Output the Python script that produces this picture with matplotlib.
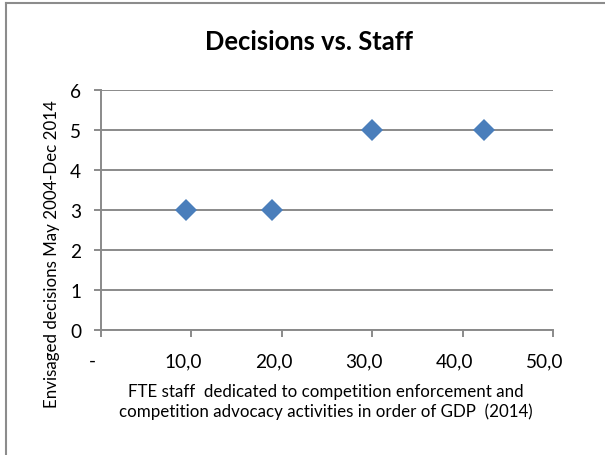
import matplotlib.pyplot as plt
import matplotlib.transforms as mtransforms
from matplotlib.lines import Line2D

plt.rcParams['font.family'] = ['Lato', 'DejaVu Sans']

# staff per GDP vs. number of decisions
staff = [9.5, 19.0, 30.0, 42.4]
decisions = [3, 3, 5, 5]

xticks = [0, 10, 20, 30, 40, 50]
xtick_labels = ['-', '10,0', '20,0', '30,0', '40,0', '50,0']
yticks = [0, 1, 2, 3, 4, 5, 6]

W, H = 605, 456
fig = plt.figure(figsize=(W / 100, H / 100), dpi=100)
ax = fig.add_axes([100.5 / W, 1 - 331 / H, 452.5 / W, 240 / H])

grid_col = '#8a8a8a'
ax.plot(staff, decisions, 'D', color='#4a7ebb', markersize=11.5,
        markeredgewidth=0, zorder=3, clip_on=False)

ax.set_xlim(0, 50)
ax.set_ylim(0, 6)
ax.set_xticks(xticks)
ax.set_xticklabels(xtick_labels)
ax.set_yticks(yticks)

ax.grid(axis='y', color=grid_col, linewidth=1.4)
ax.set_axisbelow(True)
for s in ['top', 'right']:
    ax.spines[s].set_visible(False)
for s in ['left', 'bottom']:
    ax.spines[s].set_color(grid_col)
    ax.spines[s].set_linewidth(1.4)

ax.tick_params(axis='both', color=grid_col, width=1.4, length=5,
               labelsize=13.7, labelcolor='black')
ax.tick_params(axis='x', pad=11)
ax.tick_params(axis='y', pad=9)

# Excel-style labels sit a little left of their ticks
shift = mtransforms.ScaledTranslation(-8 / 100, 0, fig.dpi_scale_trans)
for lab in ax.get_xticklabels():
    lab.set_transform(lab.get_transform() + shift)

fig.text(309 / W, 1 - 42 / H, 'Decisions vs. Staff', ha='center', va='center',
         fontsize=18.4, fontweight='bold')
fig.text(326 / W, 1 - 402 / H,
         'FTE staff  dedicated to competition enforcement and\n'
         'competition advocacy activities in order of GDP  (2014)',
         ha='center', va='center', fontsize=12.2, linespacing=1.28)
fig.text(52 / W, 1 - 254 / H, 'Envisaged decisions May 2004-Dec 2014',
         ha='center', va='center', rotation=90, fontsize=12.2)

# chart frame
fig.add_artist(Line2D([5.5 / W, 5.5 / W], [0, 1 - 3.5 / H], color='#8c8c8c',
                      linewidth=1.5, transform=fig.transFigure))
fig.add_artist(Line2D([5.5 / W, 1], [1 - 3.5 / H, 1 - 3.5 / H], color='#8c8c8c',
                      linewidth=1.5, transform=fig.transFigure))

fig.savefig('out.png', dpi=100)
